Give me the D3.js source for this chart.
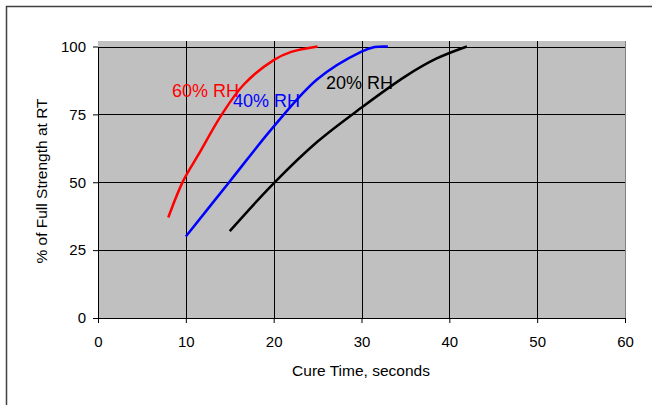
<!DOCTYPE html>
<html>
<body style="margin:0;background:#fff">
<script src="https://d3js.org/d3.v7.min.js"></script>
<script>

var xTicks = [0, 10, 20, 30, 40, 50, 60];
var yTicks = [0, 25, 50, 75, 100];

// cure time (s) vs % of full strength
var rh60 = [[8, 37], [9.7, 50.5], [11.5, 60.5], [14.1, 75], [16.6, 86], [20, 95], [22, 98], [25, 100]];
var rh40 = [[10, 30], [15, 50.3], [20, 70.5], [25, 88], [30, 98.1], [31.5, 99.8], [33, 100]];
var rh20 = [[15, 32], [20, 49.6], [25, 65], [30, 77.5], [35, 89], [38.5, 95.5], [42, 100]];

var seriesNames = ["60% RH", "40% RH", "20% RH"];
var seriesColors = ["#ff0000", "#0000ff", "#000000"];
var labelPos = [[172, 97], [233, 107], [326, 89]];

var W = 652, H = 405;
var pLeft = 98, pRight = 625, pTop = 41, pBottom = 318;

var svg = d3.select("body").append("svg")
    .attr("width", W).attr("height", H)
    .style("display", "block")
    .style("font-family", "'Liberation Sans', Arial, sans-serif");

// outer frame (only top and left visible)
svg.append("path")
   .attr("d", "M6.5," + H + "V6.5H" + W)
   .attr("fill", "none").attr("stroke", "#404040").attr("stroke-width", 1.5);

var x = d3.scaleLinear().domain([0, 60]).range([pLeft, pRight]);
var y = d3.scaleLinear().domain([0, 100]).range([pBottom, 46.5]);

svg.append("rect")
   .attr("x", pLeft).attr("y", pTop)
   .attr("width", pRight - pLeft).attr("height", pBottom - pTop)
   .attr("fill", "#c0c0c0");

// grid
svg.append("g").selectAll("line").data(yTicks.slice(1)).enter().append("line")
   .attr("x1", pLeft).attr("x2", pRight)
   .attr("y1", function(d){ return Math.round(y(d)) + 0.5; })
   .attr("y2", function(d){ return Math.round(y(d)) + 0.5; })
   .attr("stroke", "#000").attr("stroke-width", 1);

svg.append("g").selectAll("line").data(xTicks.slice(1, -1)).enter().append("line")
   .attr("y1", pTop).attr("y2", pBottom)
   .attr("x1", function(d){ return Math.round(x(d)) + 0.5; })
   .attr("x2", function(d){ return Math.round(x(d)) + 0.5; })
   .attr("stroke", "#000").attr("stroke-width", 1);

svg.append("line")
   .attr("x1", pRight + 0.5).attr("x2", pRight + 0.5).attr("y1", pTop).attr("y2", pBottom)
   .attr("stroke", "#808080");

// axes
var xAxis = d3.axisBottom(x).tickValues(xTicks).tickSize(5).tickSizeOuter(0).tickPadding(13);
var yAxis = d3.axisLeft(y).tickValues(yTicks).tickSize(5).tickSizeOuter(0).tickPadding(7);

var gx = svg.append("g").attr("transform", "translate(0," + pBottom + ")").call(xAxis);
var gy = svg.append("g").attr("transform", "translate(" + pLeft + ",0)").call(yAxis);

[gx, gy].forEach(function(g){
  g.select(".domain").attr("stroke", "#000");
  g.selectAll(".tick line").attr("stroke", "#000");
  g.selectAll(".tick text").attr("fill", "#000").style("font-size", "15px")
   .style("font-family", "'Liberation Sans', Arial, sans-serif");
});

// curves
var line = d3.line()
    .x(function(d){ return x(d[0]); })
    .y(function(d){ return y(d[1]); })
    .curve(d3.curveCatmullRom.alpha(0.5));

[rh60, rh40, rh20].forEach(function(s, i){
  svg.append("path")
     .datum(s)
     .attr("d", line)
     .attr("fill", "none")
     .attr("stroke", seriesColors[i])
     .attr("stroke-width", 2.5);
});

seriesNames.forEach(function(n, i){
  svg.append("text")
     .attr("x", labelPos[i][0]).attr("y", labelPos[i][1])
     .attr("fill", seriesColors[i])
     .style("font-size", "18px")
     .text(n);
});

// axis titles
svg.append("text")
   .attr("x", 361).attr("y", 376)
   .attr("text-anchor", "middle")
   .style("font-size", "15.5px")
   .text("Cure Time, seconds");

svg.append("text")
   .attr("transform", "translate(47,181) rotate(-90)")
   .attr("text-anchor", "middle")
   .style("font-size", "15.5px")
   .text("% of Full Strength at RT");

</script>
</body>
</html>
